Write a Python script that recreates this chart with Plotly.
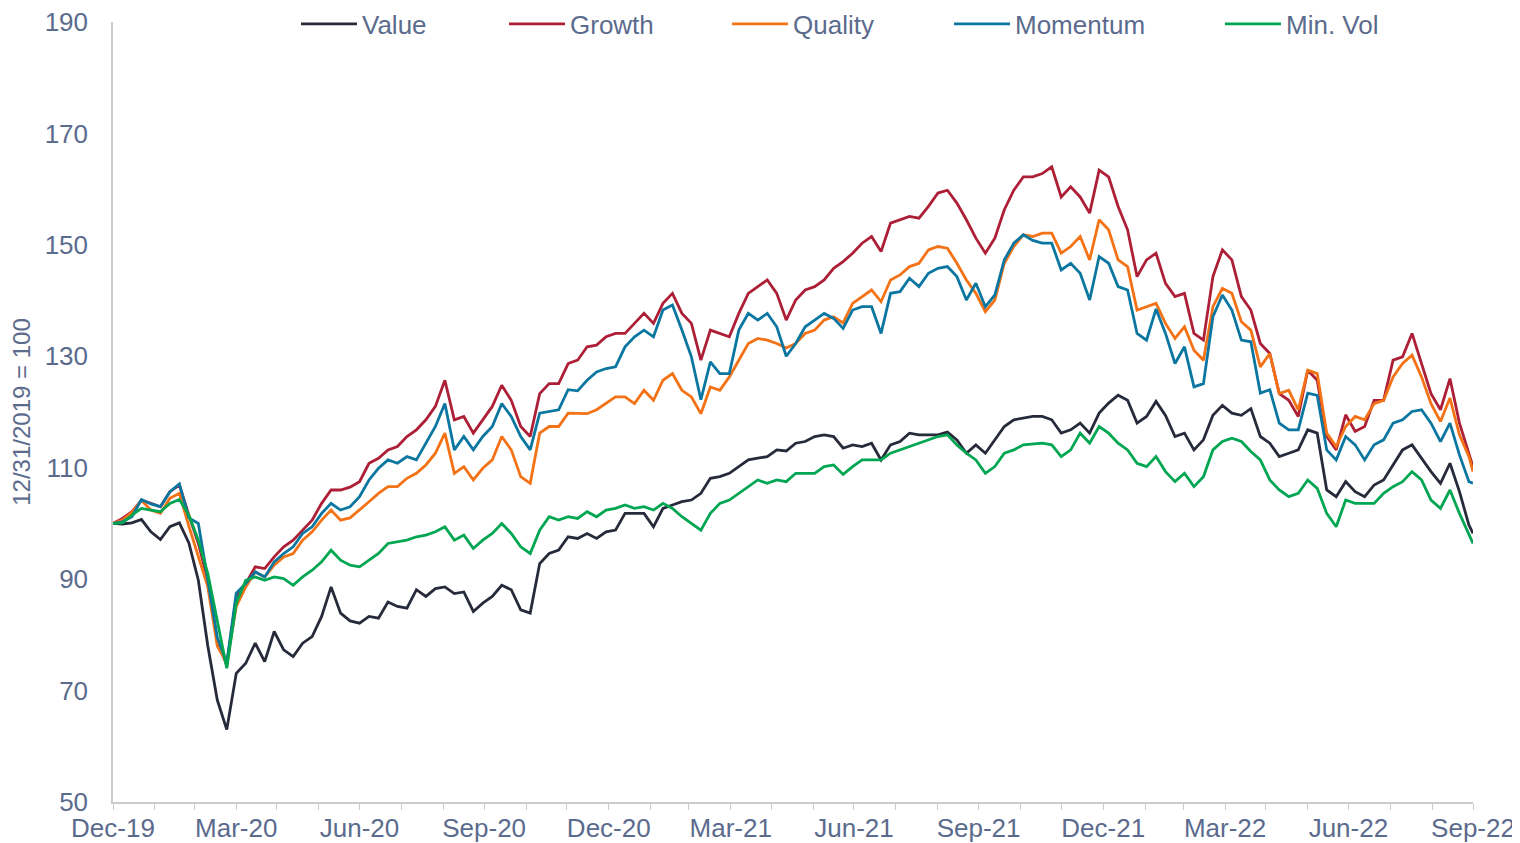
import pandas as pd
import plotly.graph_objects as go

# weekly observations from 12/31/2019, plus the final 9/30/2022 point
dates = list(pd.date_range("2019-12-31", periods=144, freq="7D")) + [pd.Timestamp("2022-09-30")]

value = [
    100, 99.9, 100.1, 100.7, 98.5, 97.1, 99.4, 100.1, 96.5, 89.8,
    78, 68.3, 63, 73.1, 74.9, 78.5, 75.2, 80.6, 77.3, 76.1,
    78.5, 79.7, 83.3, 88.6, 83.9, 82.5, 82.1, 83.3, 83, 85.9,
    85.1, 84.8, 88.1, 86.9, 88.3, 88.6, 87.4, 87.7, 84.2, 85.7,
    86.9, 88.9, 88.1, 84.5, 83.9, 92.8, 94.6, 95.2, 97.6, 97.3,
    98.2, 97.3, 98.5, 98.8, 101.8, 101.8, 101.8, 99.4, 102.7, 103.3,
    103.9, 104.2, 105.4, 108.1, 108.4, 109, 110.2, 111.4, 111.7, 112,
    113.2, 113, 114.4, 114.7, 115.6, 115.9, 115.6, 113.5, 114.1, 113.8,
    114.4, 111.4, 114.1, 114.7, 116.2, 115.9, 115.9, 115.9, 116.4, 115,
    112.6, 114.1, 112.6, 115, 117.4, 118.6, 118.9, 119.2, 119.2, 118.6,
    116.2, 116.8, 118, 116.2, 119.8, 121.6, 123, 122.1, 118, 119.2,
    121.9, 119.4, 115.6, 116.2, 113.2, 115, 119.4, 121.2, 119.8, 119.4,
    120.6, 115.6, 114.4, 112, 112.6, 113.2, 116.8, 116.2, 106, 104.8,
    107.5, 105.7, 104.8, 106.9, 107.8, 110.5, 113.2, 114.1, 111.7, 109.3,
    107.2, 110.8, 105.7, 99.7, 98.2,
]

growth = [
    100, 100.9, 102.1, 104.2, 103.6, 103, 105.7, 106.9, 101.5, 96.4,
    89.8, 79, 74.5, 86.9, 89.2, 92.2, 91.9, 94, 95.8, 97,
    98.8, 100.6, 103.6, 106, 106, 106.5, 107.5, 110.8, 111.7, 113.2,
    113.8, 115.6, 116.8, 118.6, 121, 125.7, 118.6, 119.2, 116.2, 118.6,
    121, 124.8, 122.1, 117.4, 115.6, 123.3, 125.1, 125.1, 128.7, 129.3,
    131.7, 132, 133.5, 134.1, 134.1, 135.9, 137.7, 135.9, 139.5, 141.3,
    137.7, 135.9, 129.3, 134.7, 134.1, 133.5, 137.7, 141.3, 142.5, 143.7,
    141.3, 136.5, 140.1, 141.9, 142.5, 143.7, 145.8, 147, 148.5, 150.3,
    151.5, 148.8, 153.9, 154.5, 155.1, 154.8, 156.9, 159.3, 159.8, 157.5,
    154.5, 151.2, 148.5, 151.2, 156.3, 159.8, 162.2, 162.2, 162.8, 164,
    158.6, 160.4, 158.6, 155.7, 163.4, 162.2, 156.9, 152.7, 144.3, 147.3,
    148.5, 143.1, 140.7, 141.3, 134.1, 132.9, 144.3, 149.1, 147.3, 140.7,
    138.3, 132.3, 130.5, 123.3, 122.1, 119.2, 127.5, 125.7, 115.6, 113.2,
    119.5, 116.5, 117.4, 122.1, 122.1, 129.3, 129.9, 134.1, 128.7, 123.3,
    120.4, 126, 118, 112.6, 110.2,
]

quality = [
    100, 100.6, 102, 104.1, 102.4, 101.8, 104.5, 105.4, 99.5, 94,
    88.6, 78, 75, 85.1, 88.6, 91.3, 90.4, 92.5, 94, 94.6,
    97, 98.5, 100.6, 102.4, 100.6, 101, 102.4, 103.9, 105.4, 106.6,
    106.6, 108.1, 109, 110.5, 112.6, 116.2, 109, 110.2, 107.8, 109.9,
    111.4, 115.6, 113.2, 108.4, 107.2, 116.2, 117.4, 117.4, 119.8, 119.8,
    119.7, 120.4, 121.5, 122.7, 122.7, 121.5, 123.9, 122.1, 125.7, 126.9,
    123.9, 122.7, 119.7, 124.5, 123.9, 126.3, 129.3, 132.3, 133.2, 132.9,
    132.3, 131.5, 132.3, 134.1, 134.7, 136.5, 137.1, 136, 139.5, 140.7,
    141.9, 139.8, 143.7, 144.6, 146.1, 146.7, 149.1, 149.7, 149.4, 146.7,
    143.7, 141.3, 138, 140.1, 146.7, 149.7, 151.8, 151.5, 152.1, 152.1,
    148.5, 149.7, 151.5, 147.3, 154.5, 152.7, 147.3, 146.1, 138.3, 138.9,
    139.5, 135.9, 133.2, 135.3, 131.1, 129.3, 138.9, 142.2, 141.3, 136.2,
    134.7, 128.1, 130.5, 123.3, 123.9, 120.4, 127.5, 126.9, 116.2, 113.8,
    117.4, 119.2, 118.6, 121.5, 122.1, 126.3, 128.7, 130.2, 126.3, 121.5,
    118.3, 122.5, 115.9, 112, 109.3,
]

momentum = [
    100, 100.3, 101.2, 104.3, 103.5, 103, 105.7, 107.1, 101, 100,
    89.8, 79.5, 75, 87.5, 89.2, 91.3, 90.4, 93.1, 94.6, 95.8,
    98.2, 99.4, 101.8, 103.6, 102.4, 103, 104.8, 107.8, 109.9, 111.4,
    110.8, 112, 111.4, 114.4, 117.4, 121.5, 113.2, 115.6, 113.2, 115.6,
    117.4, 121.5, 119.2, 115.6, 113.2, 119.8, 120.1, 120.4, 124, 123.8,
    125.7, 127.2, 127.8, 128.1, 131.7, 133.5, 134.7, 133.5, 138.3, 139.2,
    134.7, 129.9, 122.2, 129, 126.9, 126.9, 134.7, 137.7, 136.5, 137.7,
    135.3, 130, 132.3, 135.3, 136.5, 137.7, 136.8, 135, 138.3, 138.9,
    138.9, 134.1, 141.3, 141.6, 144, 142.5, 144.9, 145.8, 146.1, 144.3,
    140.1, 143.1, 138.9, 141, 147.3, 150.3, 151.8, 150.8, 150.3, 150.3,
    145.5, 146.7, 144.9, 140.1, 147.9, 146.7, 142.5, 141.9, 134.1, 132.9,
    138.5, 134.1, 128.7, 131.7, 124.5, 125.1, 137.1, 141, 138.3, 132.9,
    132.6, 123.4, 124, 118, 116.8, 116.8, 123.4, 123, 113.2, 111.4,
    115.6, 114.1, 111.4, 114.1, 115, 118, 118.6, 120.1, 120.4, 118,
    114.7, 118, 112.3, 107.5, 107.2,
]

min_vol = [
    100, 100.1, 101.5, 102.7, 102.4, 102.1, 103.6, 104.3, 101.5, 97,
    91, 82.7, 74, 85.7, 89.8, 90.4, 89.8, 90.4, 90.1, 88.9,
    90.4, 91.6, 93.1, 95.2, 93.4, 92.5, 92.2, 93.4, 94.6, 96.4,
    96.7, 97, 97.6, 97.9, 98.5, 99.4, 97, 97.9, 95.5, 97,
    98.2, 100, 98.2, 95.8, 94.6, 98.8, 101.2, 100.6, 101.2, 100.9,
    102.1, 101.2, 102.4, 102.7, 103.3, 102.7, 103, 102.4, 103.6, 102.7,
    101.2, 100, 98.8, 101.8, 103.6, 104.2, 105.4, 106.6, 107.8, 107.2,
    107.8, 107.5, 109, 109, 109, 110.2, 110.5, 108.8, 110.2, 111.4,
    111.4, 111.4, 112.6, 113.2, 113.8, 114.4, 115, 115.6, 115.9, 114.1,
    112.6, 111.4, 109, 110.2, 112.6, 113.2, 114.1, 114.2, 114.4, 114.1,
    112, 113.2, 116.2, 114.4, 117.4, 116.2, 114.4, 113.2, 110.8, 110.2,
    112, 109.3, 107.5, 109, 106.6, 108.4, 113.2, 114.7, 115.3, 114.7,
    112.9, 111.4, 107.8, 106, 104.8, 105.4, 107.8, 106.3, 101.8, 99.4,
    104.2, 103.6, 103.6, 103.6, 105.4, 106.6, 107.5, 109.3, 107.8, 104.2,
    102.7, 106, 101.8, 97.9, 96.4,
]

series_names = ["Value", "Growth", "Quality", "Momentum", "Min. Vol"]
series_values = [value, growth, quality, momentum, min_vol]
series_colors = ["#262A3B", "#AD1F36", "#F47216", "#0B77A0", "#00A651"]

y_ticks = [50, 70, 90, 110, 130, 150, 170, 190]
month_ends = list(pd.date_range("2019-12-31", "2022-09-30", freq="ME"))
x_ticktext = [d.strftime("%b-%y") if d.month in (3, 6, 9, 12) else "" for d in month_ends]

TEXT = "#5B6B8D"
AXIS = "#CCCCCC"
FONT = "Liberation Sans, Arial, sans-serif"

# the page body adds an 8px offset; size the figure so the plot lands where the reference has it
PAGE_OFF = 8
W, H = 1520 - PAGE_OFF, 843 - PAGE_OFF
PLOT_L, PLOT_T, PLOT_W, PLOT_H = 113, 22, 1360, 780   # absolute page pixels
ML = PLOT_L - PAGE_OFF
MT = PLOT_T - PAGE_OFF
MR = W - ML - PLOT_W
MB = H - MT - PLOT_H

fig = go.Figure()
legend_px = [302, 510, 733, 955, 1226]
legend_y_px = 24
legend_layout = {}
for k, (name, vals, color) in enumerate(zip(series_names, series_values, series_colors)):
    key = "legend" if k == 0 else f"legend{k + 1}"
    fig.add_trace(go.Scatter(
        x=dates, y=vals, name=name, mode="lines",
        line=dict(color=color, width=2.8),
        legend=key,
    ))
    legend_layout[key] = dict(
        x=(legend_px[k] - PLOT_L - 6) / PLOT_W,
        y=(PLOT_T + PLOT_H - legend_y_px) / PLOT_H,
        xanchor="left", yanchor="middle", orientation="h",
        bgcolor="rgba(0,0,0,0)", borderwidth=0,
        font=dict(size=26, color=TEXT, family=FONT),
        itemwidth=56,
    )

fig.update_layout(
    width=W, height=H,
    margin=dict(l=ML, r=MR, t=MT, b=MB, autoexpand=False),
    paper_bgcolor="white", plot_bgcolor="white",
    font=dict(family=FONT, color=TEXT, size=26),
    showlegend=True,
    **legend_layout,
)

fig.update_xaxes(
    type="date", range=["2019-12-31", "2022-09-30"],
    tickmode="array", tickvals=month_ends, ticktext=x_ticktext,
    ticks="outside", ticklen=6, tickwidth=1.3, tickcolor=AXIS,
    showline=True, linecolor=AXIS, linewidth=1.5,
    showgrid=False, zeroline=False, ticklabelstandoff=-4,
    ticklabeloverflow="allow",
    tickfont=dict(size=26, color=TEXT, family=FONT),
    automargin=False,
)
fig.update_yaxes(
    range=[50, 190], tickmode="array", tickvals=y_ticks,
    ticks="", showline=True, linecolor=AXIS, linewidth=1.5,
    showgrid=False, zeroline=False, ticklabelstandoff=18,
    ticklabeloverflow="allow",
    tickfont=dict(size=26, color=TEXT, family=FONT),
    title=dict(text="12/31/2019 = 100", font=dict(size=24, color=TEXT, family=FONT), standoff=10),
    automargin=False,
)

fig.write_html("out.html")
